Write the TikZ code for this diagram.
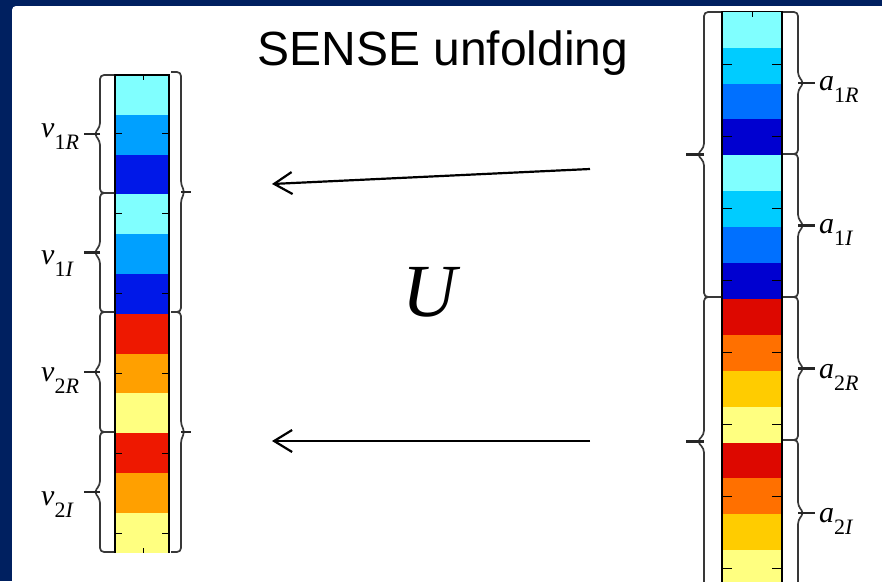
\documentclass[tikz,border=0pt]{standalone}
\usepackage{fontspec}
\setmainfont{Liberation Serif}
\newfontfamily\arialfont{Liberation Sans}
\usetikzlibrary{arrows.meta}

\definecolor{navy}{HTML}{002060}
\definecolor{lc1}{HTML}{80FFFF}
\definecolor{lc2}{HTML}{00A0FF}
\definecolor{lc3}{HTML}{0018E8}
\definecolor{lr}{HTML}{EE1800}
\definecolor{lo}{HTML}{FFA000}
\definecolor{ly}{HTML}{FFFF80}
\definecolor{rc1}{HTML}{80FFFF}
\definecolor{rc2}{HTML}{00CCFF}
\definecolor{rc3}{HTML}{0070FF}
\definecolor{rc4}{HTML}{0000D0}
\definecolor{rr}{HTML}{DD0800}
\definecolor{ro}{HTML}{FF7000}
\definecolor{rg}{HTML}{FFCC00}
\definecolor{ry}{HTML}{FFFF80}

\newcommand{\sub}[3]{\textit{#1}\raisebox{-0.42em}{\fontsize{22}{22}\selectfont #2\textit{#3}}}
% x, top, bottom, spine, point, tip
\newcommand{\mbrace}[6]{%
  \draw[brc] (#1,#2) -- ({#1+#4},#2) -- ({#1+#4},{(#2+#3)/2-7}) -- ({#1+#5},{(#2+#3)/2})
    -- ({#1+#4},{(#2+#3)/2+7}) -- ({#1+#4},#3) -- (#1,#3);
  \draw[brc,line width=2.2pt,draw=black!85] ({#1+#4},{(#2+#3)/2}) -- ({#1+#6},{(#2+#3)/2});}

\tikzset{
  brc/.style={draw=black!78,line width=1.7pt,rounded corners=4pt},
  tck/.style={line width=0.8pt},
  lbl/.style={anchor=base west,inner sep=0pt,font=\fontsize{30}{30}\selectfont},
  arr/.style={-{Straight Barb[length=18pt,width=22pt]},line width=2.2pt}
}

\begin{document}
\begin{tikzpicture}[x=1pt,y=-1pt]
\useasboundingbox (0,0) rectangle (882,581);
\clip (0,0) rectangle (882,581);
\fill[navy] (0,0) rectangle (882,581);
\fill[white,rounded corners=4pt] (12,600) -- (12,6) -- (900,6) -- (900,600) -- cycle;

% left column
\foreach \c [count=\i from 0] in {lc1,lc2,lc3,lc1,lc2,lc3,lr,lo,ly,lr,lo,ly}
  \fill[\c] (115,{75+39.8*\i}) rectangle (169,{75+39.8*(\i+1)});
\foreach \y in {133,213,...,533}
  {\draw[tck] (115,\y) -- +(7,0); \draw[tck] (169,\y) -- +(-7,0);}
\draw[tck] (143,75) -- +(0,5) (143,552.6) -- +(0,-5);
\draw[line width=1.3pt] (115,552.6) -- (115,75) -- (169,75) -- (169,552.6);

% right column
\foreach \c [count=\i from 0] in {rc1,rc2,rc3,rc4,rc1,rc2,rc3,rc4,rr,ro,rg,ry,rr,ro,rg,ry}
  \fill[\c] (722,{11.7+35.9*\i}) rectangle (782,{11.7+35.9*(\i+1)});
\foreach \y in {64,136,...,568}
  {\draw[tck] (722,\y) -- +(10,0); \draw[tck] (782,\y) -- +(-10,0);}
\draw[tck] (752,11.7) -- +(0,5);
\draw[line width=1.3pt] (722,590) -- (722,11.7) -- (782,11.7) -- (782,590);

% braces
\mbrace{114}{75}{193}{-14}{-20}{-30}
\mbrace{114}{193}{312}{-14}{-20}{-30}
\mbrace{114}{312}{432}{-14}{-20}{-30}
\mbrace{114}{432}{552}{-14}{-20}{-30}
\mbrace{171}{72}{312}{10}{14}{20}
\mbrace{171}{312}{552}{10}{14}{20}
\mbrace{721}{12}{297}{-17}{-24}{-35}
\mbrace{721}{297}{586}{-17}{-24}{-35}
\mbrace{783}{12}{154}{15}{21}{32}
\mbrace{783}{154}{297}{15}{21}{32}
\mbrace{783}{297}{440}{15}{21}{32}
\mbrace{783}{440}{586}{15}{21}{32}

\node[lbl] (v1R) at (41,137) {\sub{v}{1}{R}};
\node[lbl] (v1I) at (41,264) {\sub{v}{1}{I}};
\node[lbl] (v2R) at (41,381) {\sub{v}{2}{R}};
\node[lbl] (v2I) at (41,505) {\sub{v}{2}{I}};
\node[lbl] (a1R) at (819,90) {\sub{a}{1}{R}};
\node[lbl] (a1I) at (819,233) {\sub{a}{1}{I}};
\node[lbl] (a2R) at (819,378) {\sub{a}{2}{R}};
\node[lbl] (a2I) at (819,522) {\sub{a}{2}{I}};

\node[anchor=base,inner sep=0pt,font=\arialfont\fontsize{48}{48}\selectfont] (title) at (443,65) {SENSE unfolding};
\node[anchor=base,inner sep=0pt,font=\fontsize{75}{75}\selectfont\itshape] (U) at (430,316) {U};

\coordinate (s1) at (590,169);
\coordinate (e1) at (272,184);
\coordinate (s2) at (590,441);
\coordinate (e2) at (272,441);
\draw[arr] (s1) -- (e1);
\draw[arr] (s2) -- (e2);
\end{tikzpicture}
\end{document}
